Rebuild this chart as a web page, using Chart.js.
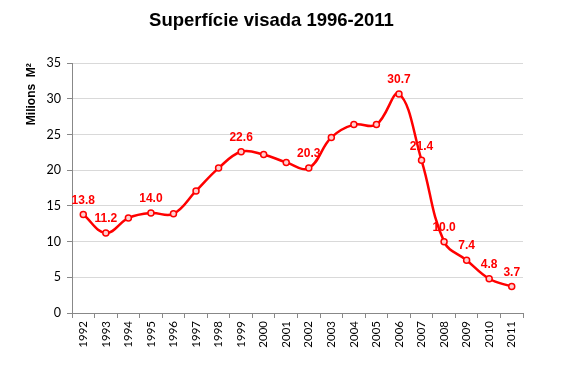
<!DOCTYPE html>
<html>
<head>
<meta charset="utf-8">
<script src="https://cdn.jsdelivr.net/npm/chart.js@4/dist/chart.umd.min.js"></script>
<style>
  html, body { margin: 0; padding: 0; background: #fff; }
  #wrap { width: 564px; height: 368px; }
</style>
</head>
<body>
<div id="wrap"><canvas id="myChart" width="564" height="368"></canvas></div>
<script>
const years = ["1992", "1993", "1994", "1995", "1996", "1997", "1998", "1999", "2000", "2001",
  "2002", "2003", "2004", "2005", "2006", "2007", "2008", "2009", "2010", "2011"];
const surface = [13.8, 11.2, 13.3, 14.0, 13.9, 17.1, 20.3, 22.6, 22.2, 21.1,
  20.3, 24.6, 26.4, 26.4, 30.7, 21.4, 10.0, 7.4, 4.8, 3.7];
// only some points carry a value label
const labelled = [13.8, 11.2, null, 14.0, null, null, null, 22.6, null, null,
  20.3, null, null, null, 30.7, 21.4, 10.0, 7.4, 4.8, 3.7];
const yTicks = [0, 5, 10, 15, 20, 25, 30, 35];

const ctx = document.getElementById("myChart");

//. Value labels above the points
const valueLabels = {
  id: "valueLabels",
  afterDatasetsDraw(chart) {
    const c = chart.ctx;
    const meta = chart.getDatasetMeta(0);
    c.save();
    c.font = "bold 12px 'Liberation Sans', Arial, sans-serif";
    c.fillStyle = "#ff0000";
    c.textAlign = "center";
    c.textBaseline = "bottom";
    labelled.forEach((v, i) => {
      if (v === null) return;
      const pt = meta.data[i];
      c.fillText(v.toFixed(1), pt.x, pt.y - 8);
    });
    c.restore();
  },
};

let myChart = new Chart(ctx, {
  type: "line",
  data: {
    labels: years,
    datasets: [
      {
        data: surface,
        borderColor: "#ff0000",
        borderWidth: 2.5,
        tension: 0.4,
        pointRadius: 3,
        pointBorderWidth: 1.5,
        pointBorderColor: "#ff0000",
        pointBackgroundColor: "#ffd0d0",
      },
    ],
  },
  options: {
    responsive: false,
    animation: false,
    layout: { padding: { top: 10, right: 41, left: 20, bottom: 0 } },
    plugins: {
      legend: { display: false },
      tooltip: { enabled: false },
      title: {
        display: true,
        text: "Superfície visada 1996-2011",
        color: "#000",
        font: { family: "'Liberation Sans', Arial, sans-serif", size: 18.5, weight: "bold" },
        padding: { top: 0, bottom: 31 },
      },
    },
    scales: {
      x: {
        offset: true,
        grid: { drawOnChartArea: false, offset: true, tickLength: 5, color: "#888" },
        border: { color: "#888" },
        ticks: {
          color: "#000",
          minRotation: 90,
          maxRotation: 90,
          autoSkip: false,
          font: { family: "Lato, 'Liberation Sans', sans-serif", size: 11.5 },
        },
        afterFit(scale) { scale.height = 55; },
      },
      y: {
        min: 0,
        max: 35,
        afterBuildTicks(scale) { scale.ticks = yTicks.map((v) => ({ value: v })); },
        grid: { color: "#d9d9d9", tickLength: 5, tickColor: "#888" },
        border: { color: "#888" },
        ticks: {
          color: "#000",
          padding: 6,
          font: { family: "Lato, 'Liberation Sans', sans-serif", size: 12.5 },
        },
        title: {
          display: true,
          align: "end",
          text: "Milions  M²",
          color: "#000",
          font: { family: "'Liberation Sans', Arial, sans-serif", size: 12, weight: "bold" },
          padding: { bottom: 4 },
        },
        afterFit(scale) { scale.width = 52; },
      },
    },
  },
  plugins: [valueLabels],
});
</script>
</body>
</html>
